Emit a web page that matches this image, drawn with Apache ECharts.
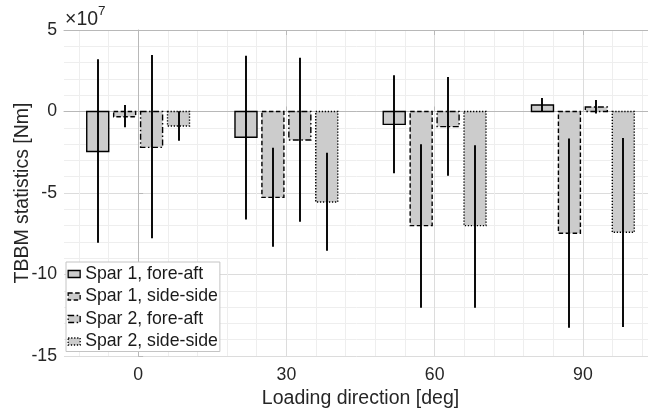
<!DOCTYPE html>
<html>
<head>
<meta charset="utf-8">
<script src="https://cdn.jsdelivr.net/npm/echarts@6/dist/echarts.min.js"></script>
<style>
html,body{margin:0;padding:0;background:#fff;}
#chart{width:648px;height:411px;}
</style>
</head>
<body>
<div id="chart"></div>
<script>
// Data (values in units of 1e7 Nm)
const directions = [0, 30, 60, 90];
const xTickLabels = [0, 30, 60, 90];
const xMinorTicks = [-12, -6, 6, 12, 18, 24, 36, 42, 48, 54, 66, 72, 78, 84, 96, 102];
const seriesNames = ['Spar 1, fore-aft', 'Spar 1, side-side', 'Spar 2, fore-aft', 'Spar 2, side-side'];

const spar1FA_mean = [-2.45, -1.58, -0.79, 0.40];
const spar1FA_low  = [-8.05, -6.62, -3.79, -0.02];
const spar1FA_high = [3.20, 3.42, 2.22, 0.83];

const spar1SS_mean = [-0.32, -5.27, -7.00, -7.47];
const spar1SS_low  = [-0.97, -8.29, -12.04, -13.26];
const spar1SS_high = [0.40, -2.22, -2.01, -1.65];

const spar2FA_mean = [-2.20, -1.75, -0.93, 0.28];
const spar2FA_low  = [-7.78, -6.76, -3.94, -0.13];
const spar2FA_high = [3.47, 3.30, 2.12, 0.71];

const spar2SS_mean = [-0.89, -5.55, -7.00, -7.41];
const spar2SS_low  = [-1.80, -8.54, -12.04, -13.22];
const spar2SS_high = [0.02, -2.53, -2.07, -1.63];

const FONT = '"Liberation Sans", Arial, Helvetica, sans-serif';
const TXT = '#262626';
const AXIS_C = '#b8b8b8';
const SLOT = 5.45;   // spacing between bars in a group (deg)
const BAR_W = 4.45;  // bar width (deg)
const dashes = [null, [4.5, 2.5], [6, 2.5, 1.5, 2.5], [1.3, 1.7]];

function makeSeries(si, means, lows, highs) {
  const dash = dashes[si];
  return {
    type: 'custom',
    name: seriesNames[si],
    coordinateSystem: 'cartesian2d',
    xAxisIndex: 0, yAxisIndex: 0,
    itemStyle: { color: '#cccccc', borderColor: '#000', borderWidth: 1.4, borderType: dash || 'solid' },
    encode: { x: 0, y: [1, 2, 3] },
    data: directions.map((d, i) => [d, means[i], lows[i], highs[i]]),
    renderItem: function (params, api) {
      const d = api.value(0), m = api.value(1), lo = api.value(2), hi = api.value(3);
      const cx = d + (si - 1.5) * SLOT;
      const p0 = api.coord([cx - BAR_W / 2, 0]);
      const p1 = api.coord([cx + BAR_W / 2, m]);
      const top = api.coord([cx, hi]);
      const bot = api.coord([cx, lo]);
      const ex = Math.round(top[0]);
      return {
        type: 'group',
        children: [
          {
            type: 'rect',
            shape: { x: p0[0], y: Math.min(p0[1], p1[1]), width: p1[0] - p0[0], height: Math.abs(p1[1] - p0[1]) },
            style: { fill: '#cccccc', stroke: '#000', lineWidth: 1.4, lineDash: dash }
          },
          {
            type: 'line',
            shape: { x1: ex, y1: top[1], x2: ex, y2: bot[1] },
            style: { stroke: '#000', lineWidth: 1.9 }
          }
        ]
      };
    }
  };
}

const chart = echarts.init(document.getElementById('chart'), null, { renderer: 'canvas' });
const option = {
  animation: false,
  backgroundColor: '#fff',
  textStyle: { fontFamily: FONT },
  grid: { left: 64, top: 30, right: -9, bottom: 55, containLabel: false, outerBoundsMode: 'none' },
  xAxis: [
    {
      type: 'value', min: -15, max: 105, position: 'bottom',
      name: 'Loading direction [deg]', nameLocation: 'middle', nameGap: 32,
      nameTextStyle: { fontSize: 19.5, color: TXT, fontFamily: FONT },
      axisLine: { show: true, lineStyle: { color: AXIS_C, width: 1 } },
      axisTick: { show: true, inside: true, length: 5, customValues: xTickLabels, lineStyle: { color: AXIS_C } },
      axisLabel: { customValues: xTickLabels, fontSize: 17.7, color: TXT, margin: 10, fontFamily: FONT },
      splitLine: { show: true, lineStyle: { color: '#dcdcdc', width: 1 } }
    },
    {
      type: 'value', min: -15, max: 105, position: 'top',
      axisLine: { show: true, lineStyle: { color: AXIS_C, width: 1 } },
      axisTick: { show: true, inside: true, length: 5, customValues: xTickLabels, lineStyle: { color: AXIS_C } },
      axisLabel: { show: false },
      splitLine: { show: false }
    },
    {
      type: 'value', min: -15, max: 105, position: 'bottom',
      axisLine: { show: false },
      axisTick: { show: false, customValues: xMinorTicks },
      axisLabel: { show: false, customValues: xMinorTicks },
      splitLine: { show: true, lineStyle: { color: '#eeeeee', width: 1 } }
    }
  ],
  yAxis: {
    type: 'value', min: -15, max: 5, interval: 5,
    name: 'TBBM statistics [Nm]', nameLocation: 'middle', nameGap: 31, nameRotate: 90,
    nameMoveOverlap: false,
    nameTextStyle: { fontSize: 19.5, color: TXT, fontFamily: FONT },
    axisLine: { show: true, lineStyle: { color: AXIS_C, width: 1 } },
    axisTick: { show: true, inside: true, length: 5, lineStyle: { color: AXIS_C } },
    axisLabel: { fontSize: 17.7, color: TXT, margin: 7, fontFamily: FONT },
    splitLine: { show: true, lineStyle: { color: '#dcdcdc', width: 1 } },
    minorTick: { show: false, splitNumber: 5 },
    minorSplitLine: { show: true, lineStyle: { color: '#eeeeee', width: 1 } }
  },
  legend: {
    orient: 'vertical', left: 66, top: 262,
    backgroundColor: '#fff', borderColor: '#c4c4c4', borderWidth: 1,
    padding: [2, 2, 0, 1.5], itemGap: 2.5, itemWidth: 12, itemHeight: 7,
    textStyle: { fontSize: 17.7, color: '#1a1a1a', fontFamily: FONT, lineHeight: 20 },
    data: seriesNames.map((n, i) => ({
      name: n, icon: 'rect',
      itemStyle: { color: '#cccccc', borderColor: '#000', borderWidth: 1.3, borderType: dashes[i] || 'solid' }
    }))
  },
  graphic: [
    { type: 'text', left: 65, top: 10, style: { text: '×10', font: '19.5px ' + FONT, fill: TXT } },
    { type: 'text', left: 98, top: 4, style: { text: '7', font: '13.5px ' + FONT, fill: TXT } }
  ],
  series: [
    makeSeries(0, spar1FA_mean, spar1FA_low, spar1FA_high),
    makeSeries(1, spar1SS_mean, spar1SS_low, spar1SS_high),
    makeSeries(2, spar2FA_mean, spar2FA_low, spar2FA_high),
    makeSeries(3, spar2SS_mean, spar2SS_low, spar2SS_high)
  ]
};
chart.setOption(option);
</script>
</body>
</html>
